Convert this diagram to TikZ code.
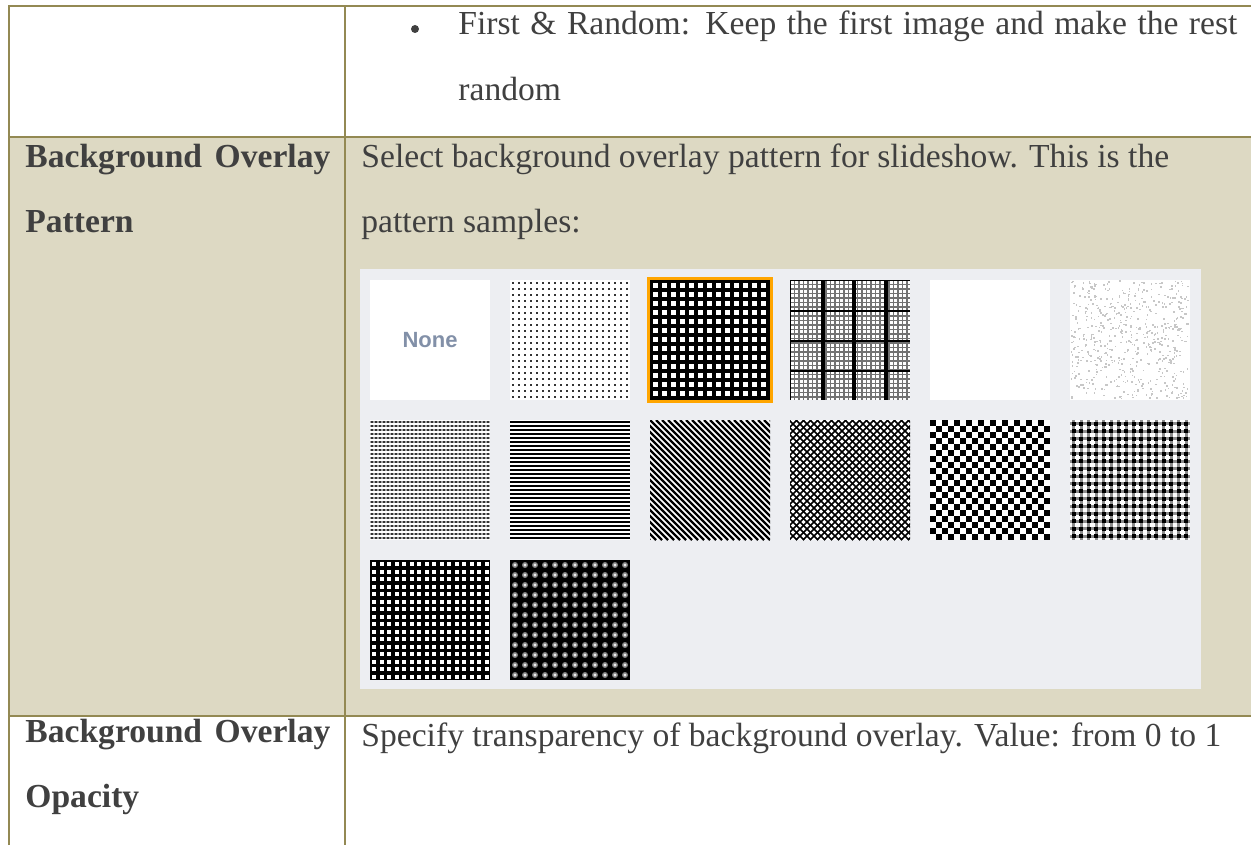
\documentclass[tikz,border=0pt]{standalone}
\usepackage{fontspec}
\setmainfont{Liberation Serif}
\newfontfamily\samplefont{Liberation Sans}
\definecolor{cellline}{HTML}{938953}
\definecolor{cellfill}{HTML}{DDD9C3}
\definecolor{bodytext}{HTML}{404040}
\definecolor{panelbg}{HTML}{EDEEF2}
\definecolor{pickorange}{HTML}{FFA500}
\definecolor{nonetext}{HTML}{8290A8}
\tikzset{
  body/.style={font=\fontsize{16.8}{20}\selectfont, text=bodytext, inner sep=0pt, anchor=base west},
  head/.style={body, font=\fontsize{16.8}{20}\selectfont\bfseries},
  rule/.style={draw=cellline, line width=1pt},
  tilebg/.style={fill=white},
}

\begin{document}
\begin{tikzpicture}[x=0.5pt,y=-0.5pt]
\useasboundingbox (0,0) rectangle (1251,845);
\fill[cellfill] (9,137) rectangle (1251,716);
\fill[panelbg] (360,269) rectangle (1201,689);

\begin{scope}[shift={(370,280)}]
\fill[tilebg] (0,0) rectangle (120,120);
\node[font=\samplefont\bfseries\fontsize{11}{13}\selectfont, text=nonetext] (none) at (60,60) {None};
\end{scope}
\begin{scope}[shift={(510,280)}]
\fill[tilebg] (0,0) rectangle (120,120);
\foreach \i in {0,...,19} \foreach \j in {0,...,19}
\fill[black!80] (2+6*\i,2+6*\j) rectangle +(2,2);
\end{scope}
\draw[pickorange, line width=1.5pt] (648.5,278.5) rectangle (771.5,401.5);
\begin{scope}[shift={(650,280)}]
\fill[black] (0,0) rectangle (120,120);
\foreach \i in {0,...,12} \foreach \j in {0,...,12}
\fill[white] (3+9*\i,3+9*\j) rectangle +(5,5);
\end{scope}
\begin{scope}[shift={(790,280)}]
\fill[tilebg] (0,0) rectangle (120,120);
\clip (0,0) rectangle (120,120);
\foreach \k in {0,...,26} {
\draw[black!55, line width=0.9pt] (4.5*\k,0) -- (4.5*\k,120);
\draw[black!55, line width=0.9pt] (0,4.5*\k) -- (120,4.5*\k);
}
\foreach \k in {33,64,96} \draw[black, line width=1.6pt] (\k,0) -- (\k,120);
\foreach \k in {0,31,61,91} \draw[black, line width=0.8pt] (0,\k) -- (120,\k);
\draw[black, line width=0.8pt] (0,0) -- (0,120);
\end{scope}
\fill[tilebg] (930,280) rectangle +(120,120);
\begin{scope}[shift={(1070,280)}]
\fill[tilebg] (0,0) rectangle (120,120);
\pgfmathsetseed{11}
\foreach \k in {1,...,600}
\fill[black!22] (rnd*118,rnd*118) rectangle +(1.6,1.6);
\end{scope}

\begin{scope}[shift={(370,420)}]
\fill[tilebg] (0,0) rectangle (120,120);
\foreach \k in {0,...,29} \fill[black!35] (0,1+4*\k) rectangle (120,3+4*\k);
\foreach \i in {0,...,29} \foreach \j in {0,...,29}
\fill[black!80] (1+4*\i,1+4*\j) rectangle +(2,2);
\end{scope}
\begin{scope}[shift={(510,420)}]
\fill[tilebg] (0,0) rectangle (120,120);
\foreach \k in {0,...,29} \fill[black] (0,1+4*\k) rectangle (120,3.2+4*\k);
\end{scope}
\begin{scope}[shift={(650,420)}]
\fill[tilebg] (0,0) rectangle (120,120);
\clip (0,0) rectangle (120,120);
\foreach \k in {-120,-114,...,120} \draw[black, line width=1.1pt] (\k,0) -- (\k+120,120);
\end{scope}
\begin{scope}[shift={(790,420)}]
\fill[tilebg] (0,0) rectangle (120,120);
\clip (0,0) rectangle (120,120);
\foreach \k in {-120,-113,...,120} {
\draw[black, line width=0.8pt] (\k,0) -- (\k+120,120);
\draw[black, line width=0.8pt] (\k,120) -- (\k+120,0);
}
\end{scope}
\begin{scope}[shift={(930,420)}]
\fill[tilebg] (0,0) rectangle (120,120);
\foreach \i [evaluate=\i as \s using {6*mod(\i,2)}] in {0,...,19} \foreach \j in {0,...,9}
\fill[black] (6*\i,\s+12*\j) rectangle +(6,6);
\end{scope}
\begin{scope}[shift={(1070,420)}]
\fill[tilebg] (0,0) rectangle (120,120);
\foreach \k in {0,...,15} {
\fill[black!45] (0,2+7.5*\k) rectangle (120,5+7.5*\k);
\fill[black!45] (2+7.5*\k,0) rectangle (5+7.5*\k,120);
}
\foreach \i in {0,...,15} \foreach \j in {0,...,15}
\fill[black] (1.5+7.5*\i,1.5+7.5*\j) rectangle +(4,4);
\end{scope}

\begin{scope}[shift={(370,560)}]
\fill[black] (0,0) rectangle (120,120);
\foreach \i in {0,...,15} \foreach \j in {0,...,15}
\fill[white] (2+7.5*\i,2+7.5*\j) rectangle +(4,4);
\end{scope}
\begin{scope}[shift={(510,560)}]
\fill[black] (0,0) rectangle (120,120);
\foreach \i in {0,...,11} \foreach \j in {0,...,11} {
\fill[black!50] (5+10*\i,5+10*\j) circle (3);
\fill[black!8] (5+10*\i,5+10*\j) circle (1.6);
}
\end{scope}

\draw[rule] (9,845) -- (9,6) -- (1251,6);
\draw[rule] (345,6) -- (345,845);
\draw[rule] (9,137) -- (1251,137);
\draw[rule] (9,716) -- (1251,716);

\fill[bodytext] (415,29) circle (4);
\node[body] (first) at (458,35) {\makebox[389.5pt][s]{First \& Random: Keep the first image and make the rest}};
\node[body] (random) at (458,101) {random};
\node[head] (bgpat) at (25,168) {\makebox[152.5pt][s]{Background Overlay}};
\node[head] (pattern) at (25,233) {Pattern};
\node[body] (select) at (361,168) {Select background overlay pattern for slideshow. This is the};
\node[body] (samples) at (361,233) {pattern samples:};
\node[head] (bgop) at (25,742) {\makebox[152.5pt][s]{Background Overlay}};
\node[head] (opacity) at (25,807) {Opacity};
\node[body] (specify) at (361,746) {Specify transparency of background overlay. Value: from 0 to 1};
\end{tikzpicture}
\end{document}
